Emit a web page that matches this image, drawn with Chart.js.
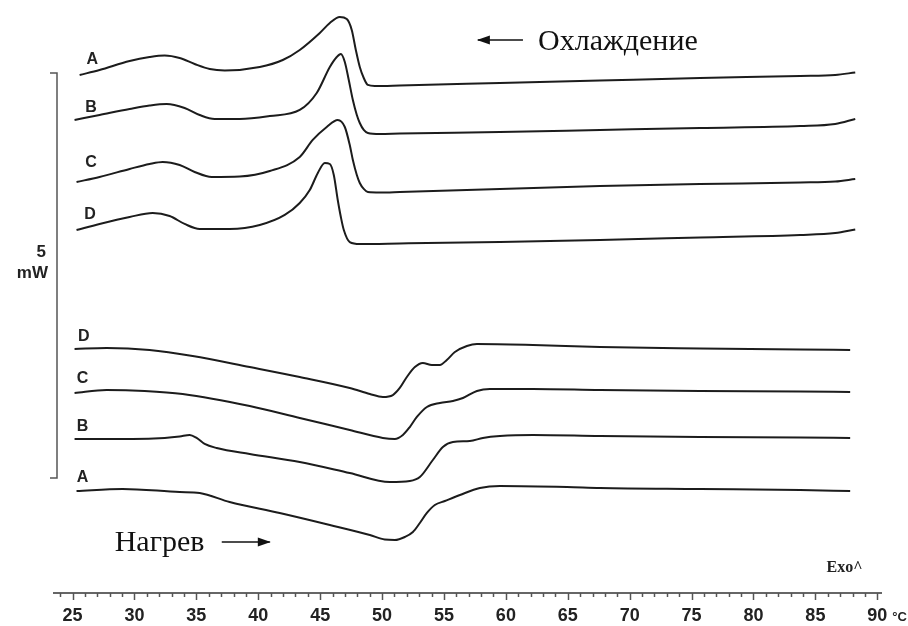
<!DOCTYPE html>
<html>
<head>
<meta charset="utf-8">
<script src="https://cdn.jsdelivr.net/npm/chart.js@4/dist/chart.umd.min.js"></script>
<style>
  html, body { margin: 0; padding: 0; background: #fff; }
  canvas { display: block; }
</style>
</head>
<body>
<canvas id="dsc" width="908" height="626"></canvas>
<script>
// DSC thermograms: temperature (°C) vs. heat flow (mW, curves offset vertically)

// Cooling runs (top group)
const coolA_T  = [25.57, 27.18, 29.61, 31.22, 32.44, 33.65, 34.86, 36.08, 37.29, 40.12, 41.98, 43.35, 44.97, 45.78, 46.58, 47.15, 47.55, 47.88, 48.20, 48.52, 48.85, 49.41, 51.43, 59.52, 67.60, 75.69, 83.77, 86.60, 88.22];
const coolA_mW = [6.395, 6.457, 6.568, 6.617, 6.636, 6.605, 6.531, 6.469, 6.451, 6.494, 6.580, 6.704, 6.914, 7.037, 7.111, 7.086, 6.951, 6.704, 6.494, 6.358, 6.272, 6.259, 6.265, 6.296, 6.327, 6.358, 6.383, 6.395, 6.426];

const coolB_T  = [25.16, 27.18, 29.61, 31.22, 32.60, 34.05, 35.27, 36.48, 38.50, 40.93, 43.35, 44.72, 45.78, 46.34, 46.67, 46.99, 47.31, 47.64, 47.96, 48.20, 48.52, 48.85, 49.82, 51.43, 59.52, 67.60, 75.69, 83.77, 86.60, 88.22];
const coolB_mW = [5.840, 5.901, 5.975, 6.018, 6.037, 5.988, 5.901, 5.852, 5.852, 5.889, 5.963, 6.173, 6.494, 6.617, 6.654, 6.556, 6.333, 6.086, 5.901, 5.802, 5.716, 5.679, 5.667, 5.673, 5.691, 5.716, 5.741, 5.765, 5.790, 5.852];

const coolC_T  = [25.32, 27.18, 29.61, 31.22, 32.28, 33.65, 34.86, 36.24, 38.50, 40.93, 43.35, 44.40, 45.53, 46.42, 46.99, 47.39, 47.64, 47.96, 48.20, 48.52, 48.85, 49.82, 51.43, 59.52, 67.60, 75.69, 83.77, 86.60, 88.22];
const coolC_mW = [5.074, 5.136, 5.235, 5.296, 5.321, 5.284, 5.198, 5.136, 5.142, 5.210, 5.383, 5.593, 5.753, 5.840, 5.753, 5.531, 5.346, 5.161, 5.062, 4.988, 4.951, 4.945, 4.951, 4.988, 5.025, 5.049, 5.068, 5.080, 5.111];

const coolD_T  = [25.32, 27.18, 29.61, 31.47, 32.84, 34.05, 35.27, 37.69, 40.12, 42.14, 43.35, 44.16, 44.81, 45.37, 45.78, 46.10, 46.42, 46.67, 46.91, 47.39, 48.20, 51.43, 59.52, 67.60, 75.69, 83.77, 86.60, 88.22];
const coolD_mW = [4.481, 4.556, 4.642, 4.691, 4.654, 4.556, 4.494, 4.494, 4.543, 4.667, 4.815, 4.975, 5.185, 5.309, 5.296, 5.161, 4.852, 4.642, 4.481, 4.333, 4.309, 4.315, 4.333, 4.358, 4.389, 4.420, 4.444, 4.488];

// Heating runs (bottom group)
const heatD_T  = [25.16, 27.75, 31.22, 34.70, 39.31, 43.35, 47.39, 49.01, 50.06, 50.87, 51.43, 52.00, 52.65, 53.29, 54.02, 54.67, 55.23, 55.88, 56.85, 57.66, 62.19, 67.60, 75.69, 83.77, 87.81];
const heatD_mW = [3.012, 3.025, 3.000, 2.926, 2.790, 2.667, 2.531, 2.457, 2.420, 2.444, 2.531, 2.667, 2.790, 2.840, 2.815, 2.815, 2.877, 2.975, 3.049, 3.074, 3.062, 3.037, 3.019, 3.006, 3.000];

const heatC_T  = [25.16, 27.75, 30.82, 33.89, 39.31, 43.35, 47.39, 50.06, 51.03, 51.68, 52.24, 52.81, 53.62, 54.67, 55.72, 56.53, 57.66, 58.71, 62.19, 67.60, 75.69, 83.77, 87.81];
const heatC_mW = [2.469, 2.506, 2.494, 2.457, 2.309, 2.161, 2.012, 1.914, 1.901, 1.951, 2.049, 2.173, 2.296, 2.346, 2.370, 2.407, 2.494, 2.519, 2.519, 2.506, 2.494, 2.488, 2.481];

const heatB_T  = [25.16, 29.85, 32.44, 33.65, 34.46, 35.02, 35.67, 36.64, 39.31, 43.35, 47.39, 50.63, 52.24, 53.05, 54.10, 54.91, 55.72, 57.09, 58.14, 59.52, 62.19, 67.60, 75.69, 83.77, 87.81];
const heatB_mW = [1.901, 1.901, 1.914, 1.932, 1.951, 1.914, 1.840, 1.790, 1.716, 1.617, 1.481, 1.370, 1.383, 1.432, 1.642, 1.802, 1.864, 1.876, 1.914, 1.938, 1.951, 1.938, 1.926, 1.920, 1.914];

const heatA_T  = [25.32, 29.04, 33.65, 35.27, 37.69, 41.73, 45.78, 49.01, 50.22, 51.03, 51.84, 52.49, 53.05, 53.62, 54.26, 55.07, 56.29, 57.90, 59.52, 64.93, 67.60, 75.69, 83.77, 87.81];
const heatA_mW = [1.259, 1.284, 1.247, 1.235, 1.123, 0.988, 0.840, 0.716, 0.660, 0.654, 0.691, 0.753, 0.864, 0.988, 1.086, 1.136, 1.210, 1.296, 1.321, 1.309, 1.296, 1.284, 1.272, 1.259];

// Curve names and where their letters sit (°C, mW)
const curveNames   = ['A', 'B', 'C', 'D', 'D', 'C', 'B', 'A'];
const curveLabelT  = [26.6, 26.5, 26.5, 26.4, 25.9, 25.8, 25.8, 25.8];
const curveLabelMW = [6.58, 5.99, 5.31, 4.67, 3.17, 2.65, 2.05, 1.43];

// Axis ticks
const majorTicks = [25, 30, 35, 40, 45, 50, 55, 60, 65, 70, 75, 80, 85, 90];
const tickLabels = ['25', '30', '35', '40', '45', '50', '55', '60', '65', '70', '75', '80', '85', '90'];
const scaleBarMW = [1.42, 6.42];   // 5 mW reference bar

const seriesT  = [coolA_T, coolB_T, coolC_T, coolD_T, heatD_T, heatC_T, heatB_T, heatA_T];
const seriesMW = [coolA_mW, coolB_mW, coolC_mW, coolD_mW, heatD_mW, heatC_mW, heatB_mW, heatA_mW];

const datasets = seriesT.map((ts, i) => ({
  label: curveNames[i],
  data: ts.map((t, k) => ({ x: t, y: seriesMW[i][k] })),
  showLine: true,
  pointRadius: 0,
  borderColor: '#1c1c1c',
  borderWidth: 2,
  cubicInterpolationMode: 'monotone',
  fill: false
}));

const SANS = '"Liberation Sans", Arial, sans-serif';
const SERIF = '"Liberation Serif", "Times New Roman", serif';

function arrow(ctx, x1, y, x2, headLeft) {
  ctx.save();
  ctx.strokeStyle = '#111';
  ctx.fillStyle = '#111';
  ctx.lineWidth = 1.5;
  ctx.beginPath();
  ctx.moveTo(x1, y);
  ctx.lineTo(x2, y);
  ctx.stroke();
  const tip = headLeft ? x1 : x2;
  const dir = headLeft ? 1 : -1;
  ctx.beginPath();
  ctx.moveTo(tip - dir * 1, y);
  ctx.lineTo(tip + dir * 12, y - 4.5);
  ctx.lineTo(tip + dir * 12, y + 4.5);
  ctx.closePath();
  ctx.fill();
  ctx.restore();
}

const decorations = {
  id: 'decorations',
  afterDraw(chart) {
    const { ctx, chartArea, scales: { x, y } } = chart;
    ctx.save();

    // minor (1 °C) and major (5 °C) tick marks below the axis line
    const axisY = chartArea.bottom;
    ctx.strokeStyle = '#555';
    ctx.lineWidth = 1.5;
    x.ticks.forEach(t => {
      const px = Math.round(x.getPixelForValue(t.value)) + 0.5;
      const major = majorTicks.includes(t.value);
      ctx.beginPath();
      ctx.moveTo(px, axisY);
      ctx.lineTo(px, axisY + (major ? 7 : 4));
      ctx.stroke();
    });

    // unit after the last tick label
    ctx.fillStyle = '#222';
    ctx.font = 'bold 13px ' + SANS;
    ctx.textAlign = 'left';
    ctx.textBaseline = 'middle';
    ctx.fillText('°C', x.getPixelForValue(90) + 15, axisY + 24);

    // 5 mW scale bar
    const bx = chartArea.left + 3;
    const yTop = y.getPixelForValue(scaleBarMW[1]);
    const yBot = y.getPixelForValue(scaleBarMW[0]);
    ctx.strokeStyle = '#555';
    ctx.lineWidth = 1.5;
    ctx.beginPath();
    ctx.moveTo(bx - 7, yTop);
    ctx.lineTo(bx, yTop);
    ctx.lineTo(bx, yBot);
    ctx.lineTo(bx - 7, yBot);
    ctx.stroke();
    ctx.fillStyle = '#222';
    ctx.font = 'bold 17px ' + SANS;
    ctx.textAlign = 'right';
    ctx.fillText('5', bx - 11, 252);
    ctx.fillText('mW', bx - 9, 273);

    // curve letters
    ctx.font = 'bold 16px ' + SANS;
    ctx.textAlign = 'center';
    curveNames.forEach((n, i) => {
      ctx.fillText(n, x.getPixelForValue(curveLabelT[i]), y.getPixelForValue(curveLabelMW[i]));
    });

    // exotherm direction
    ctx.font = 'bold 16px ' + SERIF;
    ctx.textAlign = 'right';
    ctx.fillText('Exo^', x.getPixelForValue(88.8), y.getPixelForValue(0.31));

    // run direction annotations
    ctx.font = '30px ' + SERIF;
    ctx.fillStyle = '#111';
    ctx.textAlign = 'left';
    ctx.fillText('Охлаждение', x.getPixelForValue(62.6), y.getPixelForValue(6.80));
    arrow(ctx, x.getPixelForValue(57.74), y.getPixelForValue(6.827), x.getPixelForValue(61.38), true);

    ctx.fillText('Нагрев', x.getPixelForValue(28.4), y.getPixelForValue(0.62));
    arrow(ctx, x.getPixelForValue(37.05), y.getPixelForValue(0.63), x.getPixelForValue(40.93), false);

    ctx.restore();
  }
};

new Chart(document.getElementById('dsc'), {
  type: 'scatter',
  data: { datasets },
  options: {
    responsive: false,
    animation: false,
    devicePixelRatio: 1,
    layout: { padding: { left: 54, right: 27, top: 5, bottom: -13 } },
    plugins: { legend: { display: false }, tooltip: { enabled: false } },
    scales: {
      x: {
        type: 'linear',
        position: 'bottom',
        min: 23.5,
        max: 90.3,
        afterBuildTicks(scale) {
          const ticks = [];
          for (let v = 24; v <= 90; v++) ticks.push({ value: v });
          scale.ticks = ticks;
        },
        grid: { display: false, drawTicks: false },
        border: { display: true, color: '#666', width: 2 },
        ticks: {
          autoSkip: false,
          maxRotation: 0,
          padding: 14,
          color: '#222',
          font: { family: SANS, size: 18, weight: 'bold', lineHeight: 1 },
          callback(v) {
            const i = majorTicks.indexOf(v);
            return i >= 0 ? tickLabels[i] : '';
          }
        }
      },
      y: {
        display: false,
        min: 0,
        max: 7.259
      }
    }
  },
  plugins: [decorations]
});
</script>
</body>
</html>
